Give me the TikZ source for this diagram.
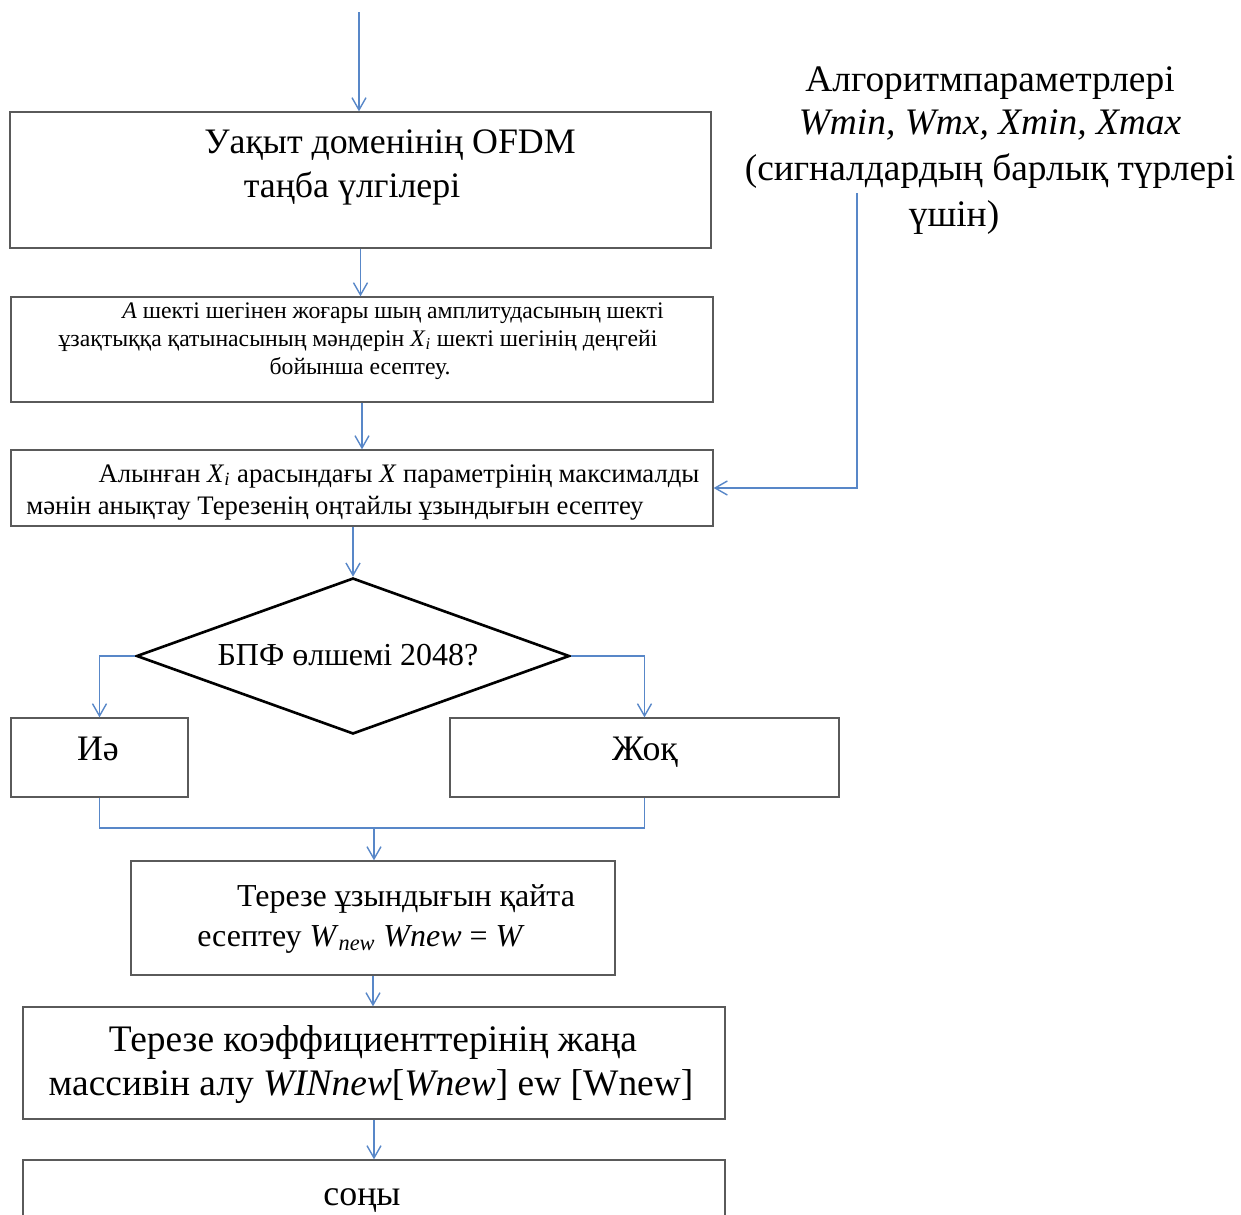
\documentclass[tikz,border=0pt]{standalone}
\usepackage{fontspec}
\setmainfont{Liberation Serif}
\usetikzlibrary{arrows.meta,fit,shapes.geometric}
\definecolor{linkblue}{RGB}{88,135,200}
\definecolor{boxgray}{RGB}{90,90,90}
\begin{document}
\begin{tikzpicture}[x=0.02cm,y=-0.02cm,
  box/.style={draw=boxgray, line width=0.75pt, inner sep=0pt},
  conn/.style={draw=linkblue, line width=0.8pt},
  arr/.style={conn, -{Straight Barb[length=7pt,width=8pt,line width=0.8pt]}},
  tbig/.style={inner sep=0pt, anchor=base, font=\fontsize{20.4}{24}\selectfont},
  tlarge/.style={inner sep=0pt, anchor=base, font=\fontsize{21.3}{25}\selectfont},
  tmid/.style={inner sep=0pt, anchor=base, font=\fontsize{18.2}{22}\selectfont},
  tsmall/.style={inner sep=0pt, anchor=base, font=\fontsize{13.5}{16}\selectfont},
  tbox3/.style={inner sep=0pt, anchor=base, font=\fontsize{15.2}{18}\selectfont}]
\useasboundingbox (0,0) rectangle (1241,1214);

% boxes
\node[box, fit={(10,112) (711,248)}] (b1) {};
\node[box, fit={(11,297) (713,402)}] (b2) {};
\node[box, fit={(11,450) (713,526)}] (b3) {};
\node[draw=black, line width=1.5pt, diamond, aspect=2.78, minimum width=433*0.02cm, minimum height=156*0.02cm, inner sep=0pt] (dia) at (353,656) {};
\node[box, fit={(11,718) (188,797)}] (yes) {};
\node[box, fit={(450,718) (839,797)}] (no) {};
\node[box, fit={(131,861) (615,975)}] (bw) {};
\node[box, fit={(23,1007) (725,1119)}] (bwin) {};
\node[box, fit={(23,1160) (725,1260)}] (bend) {};

% texts
\node[tbig] (t1a) at (390,153) {Уақыт доменінің OFDM};
\node[tbig] (t1b) at (352,197) {таңба үлгілері};

\node[tsmall] (t2a) at (393,318) {\textit{A} шекті шегінен  жоғары шың амплитудасының  шекті};
\node[tsmall] (t2b) at (358,346) {ұзақтыққа қатынасының  мәндерін \textit{X}\textsubscript{\textit{i}} шекті шегінің  деңгейі};
\node[tsmall] (t2c) at (360,374) {бойынша  есептеу.};

\node[tbox3] (t3a) at (399,482) {Алынған \textit{X}\textsubscript{\textit{i}} арасындағы \textit{X} параметрінің максималды};
\node[tbox3] (t3b) at (335,514) {мәнін анықтау Терезенің  оңтайлы ұзындығын  есептеу};

\node[tlarge] (s1) at (990,91) {Алгоритмпараметрлері};
\node[tlarge] (s2) at (990,134) {\textit{Wmin, Wmx, Xmin, Xmax}};
\node[tlarge] (s3) at (990,180) {(сигналдардың барлық түрлері};
\node[tlarge] (s4) at (954,226) {үшін)};

\node[tmid] (td) at (348,665) {БПФ өлшемі  2048?};
\node[tbig] (ty) at (98,760) {Иә};
\node[tbig] (tn) at (645,760) {Жоқ};

\node[tmid] (twa) at (406,906) {Терезе  ұзындығын қайта};
\node[tmid] (twb) at (361,946) {есептеу \textit{W}\textsubscript{\textit{new}}  \textit{Wnew} = \textit{W}};

\node[tlarge] (tna) at (373,1051) {Терезе коэффициенттерінің  жаңа};
\node[tlarge] (tnb) at (371,1095) {массивін алу  \textit{WINnew}[\textit{Wnew}] ew [Wnew]};

\node[tbig] (te) at (362,1205) {соңы};

% connectors
\coordinate (start) at (359,12);
\draw[arr] (start) -- (start |- b1.north);
\draw[arr] (b1.south) -- (b1.south |- b2.north);
\draw[arr] (b2.south) -- (b2.south |- b3.north);
\draw[arr] (dia.north |- b3.south) -- (dia.north);
\coordinate (sidetop) at (857,193);
\draw[arr] (sidetop) |- (b3.east);
\draw[arr] (dia.west) -| (yes.north);
\draw[arr] (dia.east) -| (no.north);
\coordinate (merge) at (374,828);
\draw[conn] (yes.south) |- (merge) -| (no.south);
\draw[arr] (merge) -- (merge |- bw.north);
\draw[arr] (bw.south) -- (bw.south |- bwin.north);
\draw[arr] (bwin.south) -- (bwin.south |- bend.north);
\end{tikzpicture}
\end{document}
